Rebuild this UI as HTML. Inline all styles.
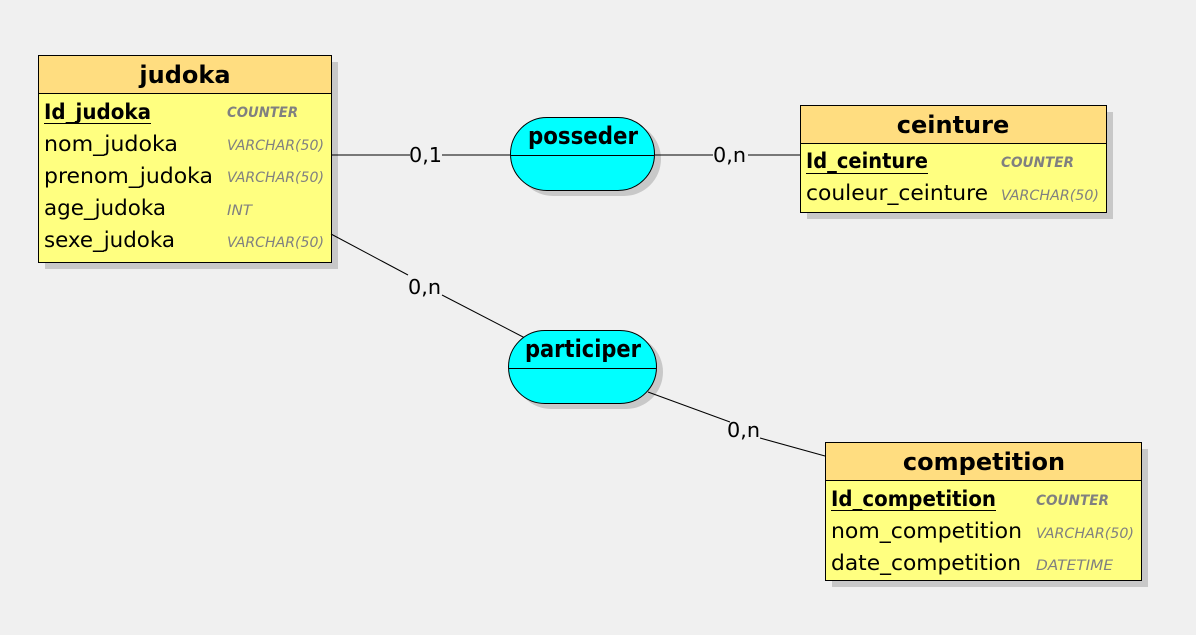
<!DOCTYPE html>
<html><head><meta charset="utf-8"><style>
html,body{margin:0;padding:0;background:#f0f0f0;}
svg{display:block;}
text{font-family:"DejaVu Sans","Liberation Sans",sans-serif;}
.t{font-size:21px;fill:#000;}
.b{font-weight:bold;}
.ty{font-size:14px;font-style:italic;fill:#808080;}
.h{font-size:24px;font-weight:bold;fill:#000;}
.l{font-size:20px;fill:#000;}
</style></head><body>
<svg width="1196" height="635" viewBox="0 0 1196 635" xmlns="http://www.w3.org/2000/svg">
<rect width="1196" height="635" fill="#f0f0f0"/>

<!-- judoka -->
<rect x="45" y="62" width="293" height="207" fill="#c8c8c8"/>
<rect x="38.5" y="55.5" width="293" height="207" fill="#ffff80" stroke="#000"/>
<rect x="38.5" y="55.5" width="293" height="38" fill="#ffdd80" stroke="#000"/>
<text class="h" x="185" y="83" text-anchor="middle">judoka</text>
<text class="t b" x="44" y="119" textLength="107" lengthAdjust="spacingAndGlyphs">Id_judoka</text>
<line x1="44" y1="123.5" x2="151" y2="123.5" stroke="#000"/>
<text class="t" x="44" y="151" textLength="134" lengthAdjust="spacingAndGlyphs">nom_judoka</text>
<text class="t" x="44" y="183" textLength="169" lengthAdjust="spacingAndGlyphs">prenom_judoka</text>
<text class="t" x="44" y="215" textLength="122" lengthAdjust="spacingAndGlyphs">age_judoka</text>
<text class="t" x="44" y="247" textLength="131" lengthAdjust="spacingAndGlyphs">sexe_judoka</text>
<text class="ty b" x="227" y="117" textLength="71" lengthAdjust="spacingAndGlyphs">COUNTER</text>
<text class="ty" x="227" y="150" textLength="97" lengthAdjust="spacingAndGlyphs">VARCHAR(50)</text>
<text class="ty" x="227" y="182" textLength="97" lengthAdjust="spacingAndGlyphs">VARCHAR(50)</text>
<text class="ty" x="227" y="215" textLength="25" lengthAdjust="spacingAndGlyphs">INT</text>
<text class="ty" x="227" y="247" textLength="97" lengthAdjust="spacingAndGlyphs">VARCHAR(50)</text>

<!-- ceinture -->
<rect x="807" y="112" width="306" height="107" fill="#c8c8c8"/>
<rect x="800.5" y="105.5" width="306" height="107" fill="#ffff80" stroke="#000"/>
<rect x="800.5" y="105.5" width="306" height="38" fill="#ffdd80" stroke="#000"/>
<text class="h" x="953" y="133" text-anchor="middle">ceinture</text>
<text class="t b" x="806" y="168" textLength="122" lengthAdjust="spacingAndGlyphs">Id_ceinture</text>
<line x1="806" y1="173.5" x2="928" y2="173.5" stroke="#000"/>
<text class="t" x="806" y="200" textLength="182" lengthAdjust="spacingAndGlyphs">couleur_ceinture</text>
<text class="ty b" x="1001" y="167" textLength="73" lengthAdjust="spacingAndGlyphs">COUNTER</text>
<text class="ty" x="1001" y="200" textLength="98" lengthAdjust="spacingAndGlyphs">VARCHAR(50)</text>

<!-- competition -->
<rect x="832" y="449" width="316" height="138" fill="#c8c8c8"/>
<rect x="825.5" y="442.5" width="316" height="138" fill="#ffff80" stroke="#000"/>
<rect x="825.5" y="442.5" width="316" height="38" fill="#ffdd80" stroke="#000"/>
<text class="h" x="984" y="470" text-anchor="middle">competition</text>
<text class="t b" x="831" y="506" textLength="165" lengthAdjust="spacingAndGlyphs">Id_competition</text>
<line x1="831" y1="510.5" x2="996" y2="510.5" stroke="#000"/>
<text class="t" x="831" y="538" textLength="191" lengthAdjust="spacingAndGlyphs">nom_competition</text>
<text class="t" x="831" y="570" textLength="190" lengthAdjust="spacingAndGlyphs">date_competition</text>
<text class="ty b" x="1036" y="505" textLength="73" lengthAdjust="spacingAndGlyphs">COUNTER</text>
<text class="ty" x="1036" y="538" textLength="98" lengthAdjust="spacingAndGlyphs">VARCHAR(50)</text>
<text class="ty" x="1036" y="570" textLength="77" lengthAdjust="spacingAndGlyphs">DATETIME</text>

<!-- ellipse shadows -->
<rect x="516" y="122" width="145" height="74" rx="37" fill="#c8c8c8"/>
<rect x="514" y="335" width="149" height="74" rx="37" fill="#c8c8c8"/>

<!-- connectors -->
<g stroke="#000" stroke-width="1">
<line x1="331" y1="155" x2="410" y2="155"/><line x1="442" y1="155" x2="512" y2="155"/>
<line x1="655" y1="155" x2="713" y2="155"/><line x1="748" y1="155" x2="800" y2="155"/>
<line x1="331" y1="234" x2="408" y2="275"/><line x1="442" y1="295" x2="525" y2="338"/>
<line x1="648" y1="392" x2="730" y2="422"/><line x1="760" y1="438" x2="825" y2="456"/>
</g>
<text class="l" x="409" y="162" textLength="33" lengthAdjust="spacingAndGlyphs">0,1</text>
<text class="l" x="713" y="162" textLength="33" lengthAdjust="spacingAndGlyphs">0,n</text>
<text class="l" x="408" y="294" textLength="33" lengthAdjust="spacingAndGlyphs">0,n</text>
<text class="l" x="727" y="437" textLength="33" lengthAdjust="spacingAndGlyphs">0,n</text>

<!-- posseder -->
<rect x="510.5" y="117.5" width="144" height="73" rx="36.5" fill="#00ffff" stroke="#000"/>
<line x1="511" y1="155.5" x2="654" y2="155.5" stroke="#000"/>
<text class="h" x="583" y="144" text-anchor="middle" textLength="110" lengthAdjust="spacingAndGlyphs">posseder</text>

<!-- participer -->
<rect x="508.5" y="330.5" width="148" height="73" rx="36.5" fill="#00ffff" stroke="#000"/>
<line x1="509" y1="368.5" x2="656" y2="368.5" stroke="#000"/>
<text class="h" x="583" y="357" text-anchor="middle" textLength="116" lengthAdjust="spacingAndGlyphs">participer</text>
</svg>
</body></html>
